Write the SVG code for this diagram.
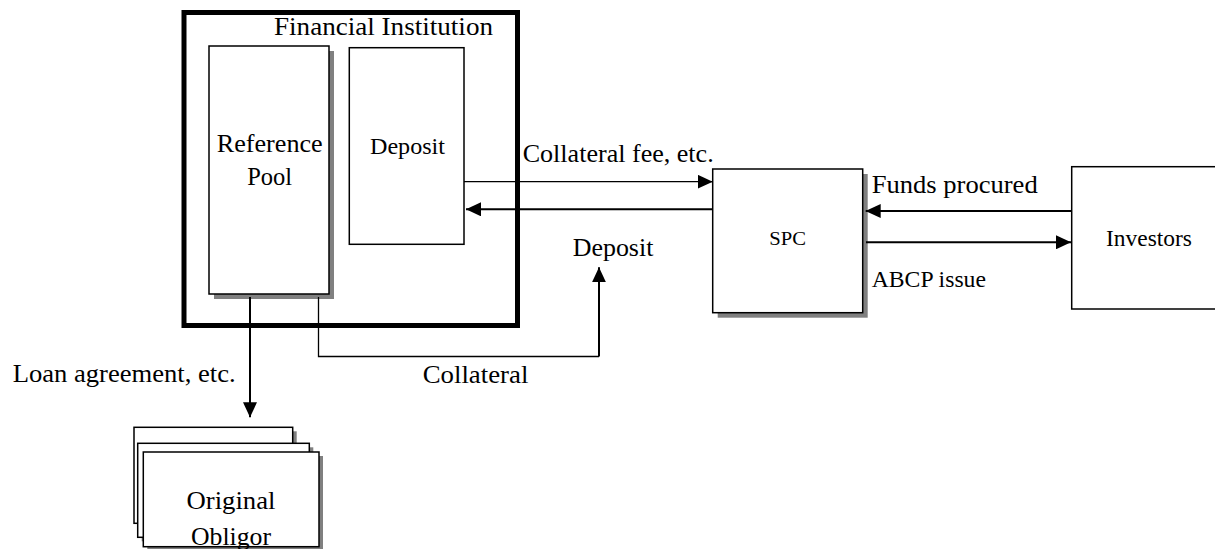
<svg xmlns="http://www.w3.org/2000/svg" width="1215" height="549" viewBox="0 0 1215 549">
  <defs>
    <marker id="ah" viewBox="0 0 15 14" refX="15" refY="7" markerWidth="15" markerHeight="14" markerUnits="userSpaceOnUse" orient="auto">
      <path d="M0,0 L15,7 L0,14 z" fill="#000"/>
    </marker>
  </defs>
  <style>
    .box { fill: #fff; stroke: #000; stroke-width: 1.5; }
    .shadow { fill: #808080; stroke: none; }
    .frame { fill: none; stroke: #000; stroke-width: 5; }
    .thin { fill: none; stroke: #000; stroke-width: 1.3; }
    .thick { fill: none; stroke: #000; stroke-width: 2; }
    .t { font-family: "Times New Roman", Times, "Liberation Serif", Tinos, "Nimbus Roman", "Noto Serif", "DejaVu Serif", serif; fill: #000; }
  </style>
  <rect width="1215" height="549" fill="#fff"/>

  <g id="financial-institution">
    <rect class="frame" x="184" y="12.5" width="333.5" height="313"/>
    <text class="t" x="274" y="35" font-size="25.5" textLength="219" lengthAdjust="spacingAndGlyphs">Financial Institution</text>
  </g>

  <g id="reference-pool">
    <rect class="shadow" x="214" y="51" width="120" height="248"/>
    <rect class="box" x="209" y="46" width="120" height="248"/>
    <text class="t" x="269.7" y="151.7" font-size="24.5" text-anchor="middle" textLength="106" lengthAdjust="spacingAndGlyphs">Reference</text>
    <text class="t" x="269.7" y="185" font-size="24.5" text-anchor="middle">Pool</text>
  </g>

  <g id="deposit-box">
    <rect class="box" x="349.3" y="47.7" width="114.7" height="196.6"/>
    <text class="t" x="407.5" y="154.3" font-size="23" text-anchor="middle" textLength="75" lengthAdjust="spacingAndGlyphs">Deposit</text>
  </g>

  <g id="spc">
    <rect class="shadow" x="717.7" y="174" width="150" height="143.7"/>
    <rect class="box" x="712.7" y="169" width="150" height="143.7"/>
    <text class="t" x="769.3" y="245" font-size="19.5" textLength="36.7" lengthAdjust="spacingAndGlyphs">SPC</text>
  </g>

  <g id="investors">
    <rect class="box" x="1071.7" y="166.7" width="160" height="142.3"/>
    <text class="t" x="1106" y="246" font-size="22.5" textLength="86" lengthAdjust="spacingAndGlyphs">Investors</text>
  </g>

  <g id="original-obligor">
    <rect class="shadow" x="138" y="431.3" width="158.7" height="96"/>
    <rect class="box" x="134" y="427.3" width="158.7" height="96"/>
    <rect class="shadow" x="141.7" y="447.3" width="171.6" height="94"/>
    <rect class="box" x="137.7" y="443.3" width="171.6" height="94"/>
    <rect class="shadow" x="147.3" y="456" width="175.7" height="95"/>
    <rect class="box" x="143.3" y="452" width="175.7" height="94.7"/>
    <text class="t" x="231" y="509.3" font-size="25.5" text-anchor="middle" textLength="89" lengthAdjust="spacingAndGlyphs">Original</text>
    <text class="t" x="231" y="545" font-size="25.5" text-anchor="middle" textLength="80" lengthAdjust="spacingAndGlyphs">Obligor</text>
  </g>

  <g id="connectors">
    <path class="thin" d="M464,181.7 H712.7" marker-end="url(#ah)"/>
    <path class="thick" d="M712.7,209.3 H466" marker-end="url(#ah)"/>
    <path class="thick" d="M1071.7,211 H865.7" marker-end="url(#ah)"/>
    <path class="thick" d="M866,242.3 H1071" marker-end="url(#ah)"/>
    <path class="thick" d="M250,297 V417.3" marker-end="url(#ah)"/>
    <path class="thin" d="M318.5,297 V356.5 H599"/>
    <path class="thick" d="M599,356.5 V267.3" marker-end="url(#ah)"/>
  </g>

  <g id="labels">
    <text class="t" x="522.7" y="162" font-size="25" textLength="191" lengthAdjust="spacingAndGlyphs">Collateral fee, etc.</text>
    <text class="t" x="572.7" y="256" font-size="25" textLength="80.7" lengthAdjust="spacingAndGlyphs">Deposit</text>
    <text class="t" x="422.7" y="382.7" font-size="25.5" textLength="105.7" lengthAdjust="spacingAndGlyphs">Collateral</text>
    <text class="t" x="12.7" y="381.7" font-size="25.5" textLength="223" lengthAdjust="spacingAndGlyphs">Loan agreement, etc.</text>
    <text class="t" x="871.7" y="192.7" font-size="25.5" textLength="166" lengthAdjust="spacingAndGlyphs">Funds procured</text>
    <text class="t" x="871.7" y="286.7" font-size="22.5" textLength="114.3" lengthAdjust="spacingAndGlyphs">ABCP issue</text>
  </g>
</svg>
